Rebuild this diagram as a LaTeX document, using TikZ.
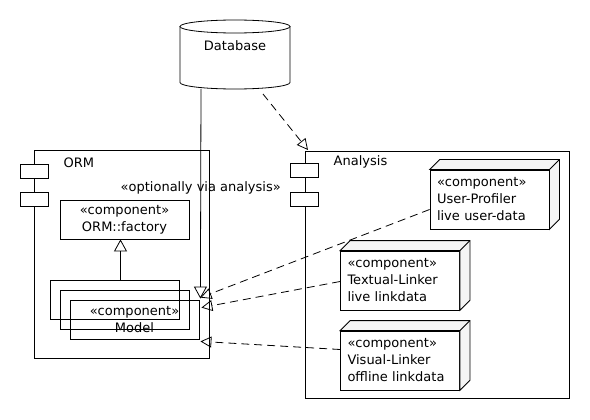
\documentclass[tikz,border=0pt]{standalone}
\usepackage{fontspec}
\setmainfont{DejaVu Sans}
\usetikzlibrary{arrows.meta,calc}
\newcommand{\port}[1]{\draw[fill=white] (#1) rectangle ++(28,14)}
\newcommand{\depth}[1]{\draw[fill=gray!8] (#1.north west) -- ++(10,-10)
	-- ($(#1.north east)+(10,-10)$) -- ($(#1.south east)+(10,-10)$)
	-- (#1.south east) -- (#1.north east) -- cycle;
	\draw (#1.north east) -- ++(10,-10)}

\begin{document}
\begin{tikzpicture}[x=1pt,y=-1pt,line width=0.8pt,font=\fontsize{13}{17}\selectfont,
	gen/.style={-{Triangle[open,length=12pt,width=13pt]}},
	dep/.style={dash pattern=on 8pt off 5pt,-{Triangle[open,length=11pt,width=11pt]}},
	pkg/.style={draw,anchor=north west,inner sep=0pt},
	box/.style={draw,align=center,minimum width=129pt,minimum height=39pt,inner sep=0pt},
	comp/.style={draw,fill=white,align=left,text width=105pt,minimum height=59pt,inner sep=7pt}]
\useasboundingbox (0,0) rectangle (590,420);
%
\draw (180,26.5) -- (180,82.5) arc[start angle=180,end angle=360,x radius=55pt,y radius=6.5pt] -- (290,26.5);
\draw[fill=white] (235,26.5) ellipse [x radius=55pt,y radius=6.5pt];
\node (db) at (235,46) {Database};
\coordinate (dbfoot) at (201,89);
\coordinate (dbside) at (263,94);
%
\node[pkg,minimum width=175pt,minimum height=208pt] (orm) at (34,150) {};
	\port{20,164};
	\port{20,192};
\node[anchor=west] (ormname) at (60,163) {ORM};
\node[box] (factory) at (124.5,219.5) {«component»\\ORM::factory};
\node[box] (modelA) at (114.5,299.5) {};
\node[box] (modelB) at (124.5,309.5) {};
\node[box] (model) at (134.5,319.5) {«component»\\Model};
\draw[gen] ($(modelA.north)+(6,0)$) -- ($(factory.south)+(-4,0)$);
%
\node[pkg,minimum width=264pt,minimum height=247pt] (ana) at (305,151) {};
	\port{290,163};
	\port{290,192};
\node[anchor=west] (ananame) at (330,162) {Analysis};
\node[comp] (prof) at (489.5,199.5) {«component»\\User-Profiler\\live user-data};
	\depth{prof};
\node[comp] (textl) at (400,280.5) {«component»\\Textual-Linker\\live linkdata};
	\depth{textl};
\node[comp] (visl) at (400,360.5) {«component»\\Visual-Linker\\offline linkdata};
	\depth{visl};
%
\draw[gen] (dbfoot) -- node[pos=0.47] (via) {«optionally via analysis»} ($(model.north east)+(1,-1)$);
\draw[dep] (dbside) -- ($(ana.north west)+(3,-1)$);
\draw[dep] ($(prof.west)+(0,10)$) -- ($(model.north east)+(1,-2)$);
\draw[dep] ($(textl.west)+(0,1)$) -- ($(model.north east)+(2,8)$);
\draw[dep] ($(visl.west)+(0,-11)$) -- ($(model.south east)+(1,2)$);
\end{tikzpicture}
\end{document}
